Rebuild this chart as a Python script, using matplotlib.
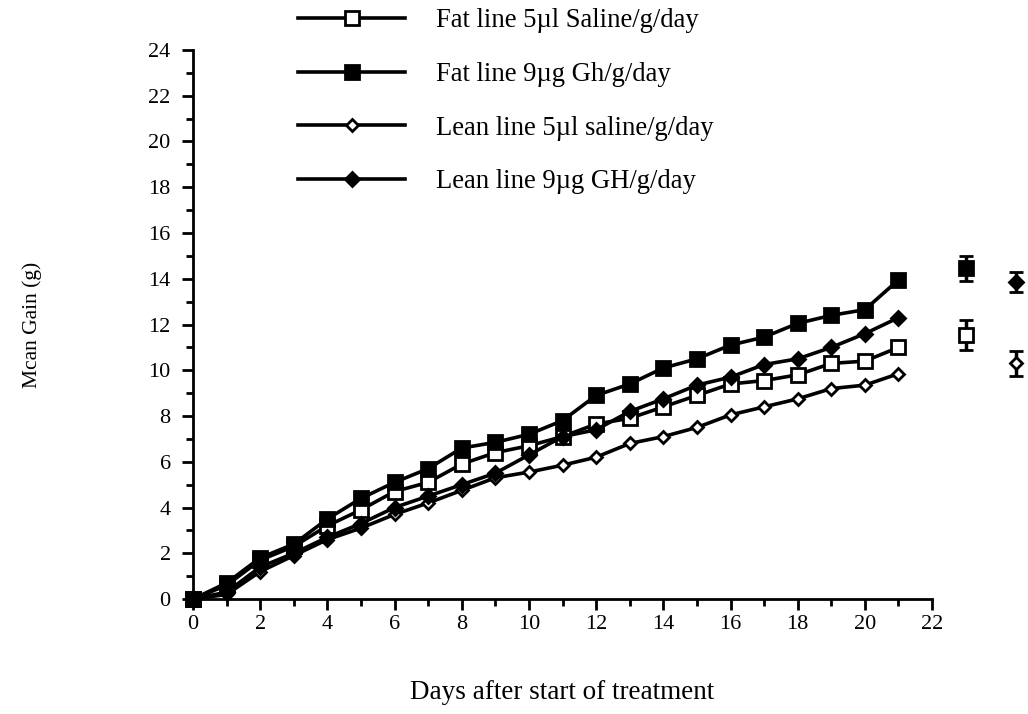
import matplotlib
matplotlib.use("Agg")
from matplotlib import pyplot as plt
from matplotlib.ticker import MultipleLocator

plt.rcParams['font.family'] = ['Liberation Serif', 'DejaVu Serif']

days = list(range(0, 22))

fat_saline = [0, 0.6, 1.7, 2.3, 3.2, 3.9, 4.7, 5.1, 5.9, 6.4, 6.7, 7.1,
              7.65, 7.9, 8.4, 8.9, 9.4, 9.55, 9.8, 10.3, 10.4, 11.0]
fat_gh = [0, 0.7, 1.8, 2.4, 3.5, 4.4, 5.1, 5.7, 6.6, 6.85, 7.2, 7.8,
          8.9, 9.4, 10.1, 10.5, 11.1, 11.45, 12.05, 12.4, 12.65, 13.95]
lean_saline = [0, 0.2, 1.2, 1.9, 2.6, 3.1, 3.7, 4.2, 4.75, 5.3, 5.55, 5.85,
               6.2, 6.8, 7.1, 7.5, 8.05, 8.4, 8.75, 9.2, 9.35, 9.85]
lean_gh = [0, 0.3, 1.4, 2.0, 2.7, 3.3, 4.0, 4.5, 5.0, 5.5, 6.3, 7.1,
           7.4, 8.2, 8.75, 9.35, 9.7, 10.25, 10.5, 11.0, 11.6, 12.3]

labels = ["Fat line 5\u00b5l Saline/g/day",
          "Fat line 9\u00b5g Gh/g/day",
          "Lean line 5\u00b5l saline/g/day",
          "Lean line 9\u00b5g GH/g/day"]

# recovery values shown beside the curves, with their errors
rec_x = [23.0, 23.0, 24.5, 24.5]
rec_y = [11.55, 14.45, 10.3, 13.85]
rec_err = [0.65, 0.55, 0.55, 0.45]

fig = plt.figure(figsize=(10.28, 7.14), dpi=100)
ax = fig.add_axes([0.1877, 0.161, 0.719, 0.769])

series = [fat_saline, fat_gh, lean_saline, lean_gh]
styles = [('s', 'white', 9.5), ('s', 'black', 9.5), ('D', 'white', 6.5), ('D', 'black', 7)]
handles = []
for vals, (mk, face, ms), lab in zip(series, styles, labels):
    h, = ax.plot(days, vals, color='black', lw=2.6, marker=mk, ms=ms,
                 mfc=face, mec='black', mew=2, label=lab, clip_on=False, zorder=3)
    handles.append(h)

for x, y, e, (mk, face, ms) in zip(rec_x, rec_y, rec_err, styles):
    ax.errorbar(x, y, yerr=e, fmt=mk, color='black', mfc=face, mec='black',
                ms=ms, mew=2, elinewidth=2.5, capsize=5, capthick=2.5, clip_on=False)

ax.set_xlim(0, 22)
ax.set_ylim(0, 24)
ax.spines['top'].set_visible(False)
ax.spines['right'].set_visible(False)
ax.spines['left'].set_linewidth(2)
ax.spines['bottom'].set_linewidth(2)

ax.xaxis.set_major_locator(MultipleLocator(2))
ax.xaxis.set_minor_locator(MultipleLocator(1))
ax.yaxis.set_major_locator(MultipleLocator(2))
ax.yaxis.set_minor_locator(MultipleLocator(1))
ax.tick_params(axis='both', which='major', length=8, width=2, labelsize=16, direction='out')
ax.tick_params(axis='y', which='major', pad=8)
ax.tick_params(axis='both', which='minor', length=5, width=2, direction='out')

ax.set_xlabel("Days after start of treatment", fontsize=19.5, labelpad=33)
ax.set_ylabel("Mcan Gain (g)", fontsize=15.5, labelpad=77)

leg = ax.legend(handles=handles, loc='upper left', bbox_to_anchor=(0.11, 1.12),
                frameon=False, fontsize=19.2, handlelength=4.0, handletextpad=1.15,
                labelspacing=1.08)

plt.savefig("out.png", dpi=100)
